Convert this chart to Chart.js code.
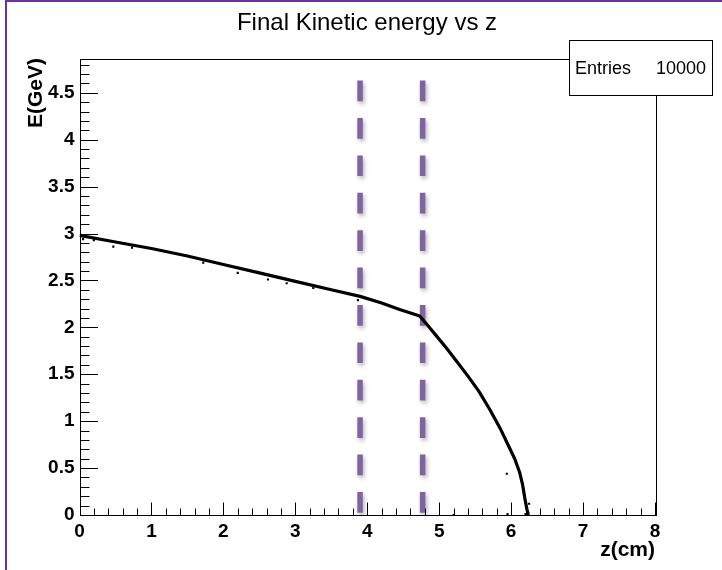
<!DOCTYPE html>
<html>
<head>
<meta charset="utf-8">
<script src="https://cdn.jsdelivr.net/npm/chart.js@4.4.1/dist/chart.umd.min.js"></script>
<style>
  body { margin: 0; background: #fff; }
  #graph { display: block; }
</style>
</head>
<body>
<canvas id="graph" width="722" height="570"></canvas>
<script>
// curve: z (cm) and E (GeV)
var zCurve = [0, 0.5, 1.0, 1.5, 2.0, 2.5, 3.0, 3.5, 3.9, 4.2, 4.45, 4.73, 4.83, 4.95, 5.1, 5.25, 5.4, 5.55, 5.7, 5.85, 5.95, 6.05, 6.12, 6.16, 6.19, 6.22, 6.24];
var eCurve = [2.98, 2.91, 2.84, 2.76, 2.67, 2.58, 2.49, 2.40, 2.33, 2.26, 2.19, 2.12, 2.03, 1.92, 1.78, 1.63, 1.48, 1.32, 1.13, 0.92, 0.76, 0.60, 0.45, 0.32, 0.18, 0.06, 0.0];

// stray entries off the main band
var zStray = [0.05, 0.2, 0.47, 0.73, 1.72, 2.2, 2.62, 2.88, 3.25, 3.87, 5.94, 5.2, 5.95, 6.2, 6.25];
var eStray = [2.94, 2.93, 2.86, 2.85, 2.69, 2.58, 2.51, 2.47, 2.42, 2.29, 0.44, 0.0, 0.01, 0.01, 0.12];

// dashed markers
var zMarks = [3.9, 4.77];
var eMarkTop = 4.63;

var xTicks = [0, 1, 2, 3, 4, 5, 6, 7, 8];
var yStep = 0.5;
var yMax = 4.86;
var entries = "10000";
var titleText = "Final Kinetic energy vs z";

function points(xs, ys) {
    var out = [];
    for (var i = 0; i < xs.length; i++) {
        out.push({ x: xs[i], y: ys[i] });
    }
    return out;
}

var datasets = [
    {
        data: points(zCurve, eCurve),
        showLine: true,
        borderColor: "#000",
        borderWidth: 3.2,
        borderJoinStyle: "round",
        pointRadius: 0,
        tension: 0
    },
    {
        data: points(zStray, eStray),
        showLine: false,
        backgroundColor: "#000",
        borderColor: "#000",
        pointStyle: "rect",
        pointRadius: 1.5,
        borderWidth: 0
    }
];
for (var m = 0; m < zMarks.length; m++) {
    datasets.push({
        data: [{ x: zMarks[m], y: eMarkTop }, { x: zMarks[m], y: 0 }],
        showLine: true,
        borderColor: "#8064a2",
        borderWidth: 5.5,
        borderDash: [20.7, 16.7],
        borderCapStyle: "butt",
        pointRadius: 0,
        shadow: true
    });
}

var font = "'Liberation Sans', Arial, sans-serif";

var rootLook = {
    id: "rootLook",
    beforeDraw: function (chart) {
        var ctx = chart.ctx;
        ctx.save();
        ctx.fillStyle = "#fff";
        ctx.fillRect(0, 0, chart.width, chart.height);
        ctx.fillStyle = "#7030a0";
        ctx.fillRect(5, 0, 2, chart.height);
        ctx.fillRect(5, 0, chart.width, 2);
        ctx.restore();
    },
    beforeDatasetDraw: function (chart, args) {
        if (chart.data.datasets[args.index].shadow) {
            var ctx = chart.ctx;
            ctx.save();
            ctx.shadowColor = "rgba(0,0,0,0.3)";
            ctx.shadowBlur = 4;
            ctx.shadowOffsetX = 1.5;
            ctx.shadowOffsetY = 2.5;
        }
    },
    afterDatasetDraw: function (chart, args) {
        if (chart.data.datasets[args.index].shadow) {
            chart.ctx.restore();
        }
    },
    afterDraw: function (chart) {
        var ctx = chart.ctx;
        var a = chart.chartArea;
        var xs = chart.scales.x;
        var ys = chart.scales.y;
        ctx.save();
        ctx.strokeStyle = "#000";
        ctx.lineWidth = 1;
        ctx.strokeRect(Math.round(a.left) + 0.5, Math.round(a.top) + 0.5,
            Math.round(a.right - a.left), Math.round(a.bottom - a.top));

        // ticks pointing into the frame
        ctx.beginPath();
        var bottom = Math.round(a.bottom) + 0.5;
        for (var i = 0; i <= 40; i++) {
            var px = Math.round(xs.getPixelForValue(i * 0.2)) + 0.5;
            var len = (i % 5 === 0) ? 13 : 7;
            ctx.moveTo(px, bottom);
            ctx.lineTo(px, bottom - len);
        }
        var left = Math.round(a.left) + 0.5;
        for (var j = 0; j * 0.1 <= yMax; j++) {
            var py = Math.round(ys.getPixelForValue(j * 0.1)) + 0.5;
            var ylen = (j % 5 === 0) ? 17.5 : 9;
            ctx.moveTo(left, py);
            ctx.lineTo(left + ylen, py);
        }
        ctx.stroke();

        // title
        ctx.fillStyle = "#000";
        ctx.font = "24px " + font;
        ctx.textAlign = "center";
        ctx.textBaseline = "middle";
        ctx.fillText(titleText, 367, 23);

        // axis titles, ROOT style at the axis ends
        ctx.font = "bold 21px " + font;
        ctx.textAlign = "right";
        ctx.textBaseline = "alphabetic";
        ctx.fillText("z(cm)", a.right, 556);
        ctx.save();
        ctx.translate(42, a.top - 1);
        ctx.rotate(-Math.PI / 2);
        ctx.fillText("E(GeV)", 0, 0);
        ctx.restore();

        // stats box
        ctx.fillStyle = "#fff";
        ctx.fillRect(569.5, 40.5, 143, 55);
        ctx.strokeRect(569.5, 40.5, 143, 55);
        ctx.fillStyle = "#000";
        ctx.font = "18px " + font;
        ctx.textBaseline = "middle";
        ctx.textAlign = "left";
        ctx.fillText("Entries", 575, 69);
        ctx.textAlign = "right";
        ctx.fillText(entries, 706, 69);
        ctx.restore();
    }
};

var ctx = document.getElementById("graph").getContext("2d");
var chart = new Chart(ctx, {
    type: "scatter",
    data: { datasets: datasets },
    options: {
        responsive: false,
        animation: false,
        layout: { padding: { left: 0, right: 67, top: 59, bottom: 0 } },
        plugins: {
            legend: { display: false },
            tooltip: { enabled: false },
            title: { display: false }
        },
        scales: {
            x: {
                type: "linear",
                min: 0,
                max: 8,
                afterBuildTicks: function (scale) {
                    scale.ticks = xTicks.map(function (v) { return { value: v }; });
                },
                ticks: {
                    color: "#000",
                    padding: 5,
                    font: { family: font, size: 19, weight: "bold" }
                },
                grid: { display: false, drawTicks: false },
                border: { display: false },
                afterFit: function (scale) { scale.height = 55; }
            },
            y: {
                type: "linear",
                min: 0,
                max: yMax,
                ticks: {
                    stepSize: yStep,
                    includeBounds: false,
                    color: "#000",
                    padding: 5,
                    font: { family: font, size: 19, weight: "bold" },
                    callback: function (v) { return String(Math.round(v * 10) / 10); }
                },
                grid: { display: false, drawTicks: false },
                border: { display: false },
                afterFit: function (scale) { scale.width = 79.5; }
            }
        }
    },
    plugins: [rootLook]
});
</script>
</body>
</html>
